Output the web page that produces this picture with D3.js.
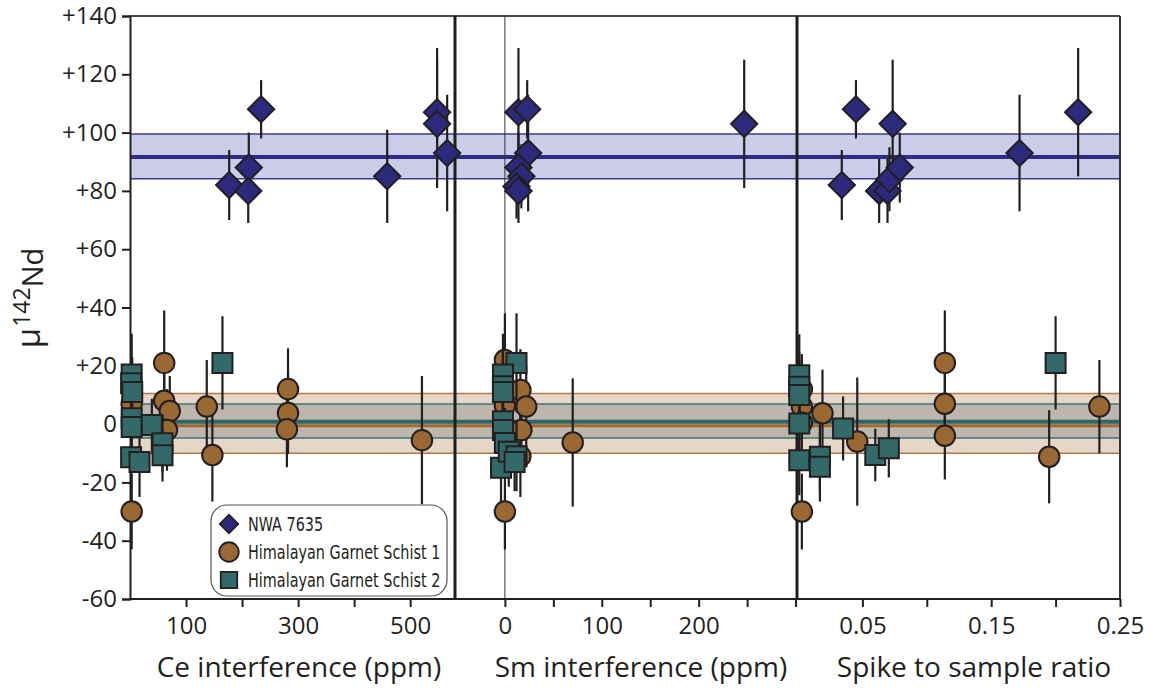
<!DOCTYPE html>
<html>
<head>
<meta charset="utf-8">
<script src="https://cdn.jsdelivr.net/npm/d3@7"></script>
<style>
  body { margin: 0; background: #fff; }
  text { font-family: "Open Sans", "Noto Sans", sans-serif; fill: #231f20; }
  .legend text { font-family: "Liberation Sans Narrow", "DejaVu Sans Condensed", sans-serif; }
</style>
</head>
<body>
<svg id="chart" width="1151" height="688"></svg>
<script>
// values: [x, mu142Nd, 2sd]
var ceNwa = [[177, 82, 12], [212, 88, 12], [211, 80, 11], [234, 108, 10], [459, 85, 16], [548, 107, 22], [548, 103, 22], [566, 93, 20]];
var ceHgs1 = [[3, -30, 13], [3, 7, 12], [61, 21, 18], [61, 8, 14], [71, 4.5, 12], [66, -2, 14], [137, 6, 16], [147, -10.6, 16], [282, 12, 14], [282, 3.8, 14], [280, -1.8, 13], [521, -5.5, 22]];
var ceHgs2 = [[3, 17, 14], [2, 14, 12], [4, 11, 12], [3, 2, 12], [3, -1, 12], [2, -11.4, 12], [17, -13, 12], [39, -0.3, 9], [58, -6.6, 10], [58, -10.7, 9], [165, 21, 16]];

var smNwa = [[14, 107, 22], [23, 108, 10], [24, 93, 20], [14, 88, 12], [17, 85, 11], [12, 81.5, 11], [14, 80, 11], [247, 103, 22]];
var smHgs1 = [[0, -30, 13], [0, 22, 16], [16, 11.7, 14], [22, 6, 14], [0, 6.5, 12], [17, -2, 14], [16, -11, 14], [70, -6.3, 22]];
var smHgs2 = [[12, 21, 17], [-2, 17, 14], [-2, 13, 12], [-2, 11, 12], [-2, 1, 12], [-2, -2, 12], [0, -6.5, 12], [-4, -15, 12], [4, -9.5, 12], [12, -11, 12], [10, -13, 10]];

var spNwa = [[0.034, 82, 12], [0.045, 108, 10], [0.0735, 103, 22], [0.063, 80, 11], [0.0695, 80, 11], [0.071, 84, 11], [0.079, 88, 12], [0.172, 93, 20], [0.2175, 107, 22]];
var spHgs1 = [[0.003, -30, 13], [0.003, 12, 12], [0.003, 6, 12], [0.003, 0.5, 12], [0.019, 3.7, 15], [0.046, -6, 22], [0.114, 21, 18], [0.114, 7, 14], [0.114, -4, 15], [0.195, -11.2, 16], [0.234, 6, 16]];
var spHgs2 = [[0.001, 16.8, 14], [0.001, 12.8, 12], [0.001, 10, 12], [0.001, 0.2, 12], [0.001, -12.4, 12], [0.017, -11.2, 12], [0.017, -14.6, 12], [0.035, -1.5, 11], [0.06, -10.6, 9], [0.0705, -8.3, 10], [0.2, 21, 16]];

// reference bands: [mean, low, high]
var nwaBand = [91.6, 84.2, 99.5];
var hgs1Band = [-0.6, -10, 10.5];
var hgs2Band = [0.8, -4.8, 6.9];

var yTicks = [-60, -40, -20, 0, 20, 40, 60, 80, 100, 120, 140];
var ceTicks = [100, 200, 300, 400, 500], ceLabels = [100, 300, 500];
var smTicks = [0, 50, 100, 150, 200, 250, 300], smLabels = [0, 100, 200];
var spTicks = [0.05, 0.10, 0.15, 0.20, 0.25], spLabels = [0.05, 0.15, 0.25];
var legendNames = ['NWA 7635', 'Himalayan Garnet Schist 1', 'Himalayan Garnet Schist 2'];

var svg = d3.select('#chart');
var pLeft = 130, pRight = 1120, pTop = 16, pBottom = 599;

var y = d3.scaleLinear().domain([-60, 140]).range([pBottom, pTop]);
var xCe = d3.scaleLinear().domain([0, 580]).range([pLeft, 455]);
var xSm = d3.scaleLinear().domain([-51.5, 301.5]).range([455, 797]);
var xSp = d3.scaleLinear().domain([0, 0.25]).range([798, pRight]);

var col = {
    nwa: '#2c2a7c', hgs1: '#9a6833', hgs2: '#336a69',
    nwaFill: '#cbcce7', hgs1Fill: '#e6d6c7', hgs2Fill: '#bcb6ac',
    nwaEdge: '#3b3b92', hgs1Edge: '#b07b48', hgs2Edge: '#3f7674'
};

// bands
var band = (b, fill, edge, lineCol, lw) => {
    svg.append('rect').attr('x', pLeft).attr('width', pRight - pLeft)
        .attr('y', y(b[2])).attr('height', y(b[1]) - y(b[2])).attr('fill', fill);
    [b[1], b[2]].forEach(v => svg.append('line').attr('x1', pLeft).attr('x2', pRight)
        .attr('y1', y(v)).attr('y2', y(v)).attr('stroke', edge).attr('stroke-width', 1.5));
    return () => svg.append('line').attr('x1', pLeft).attr('x2', pRight)
        .attr('y1', y(b[0])).attr('y2', y(b[0])).attr('stroke', lineCol).attr('stroke-width', lw);
};
var l1 = band(nwaBand, col.nwaFill, col.nwaEdge, '#2e2c84', 4);
var l2 = band(hgs1Band, col.hgs1Fill, col.hgs1Edge, '#a06a32', 3);
var l3 = band(hgs2Band, col.hgs2Fill, col.hgs2Edge, '#2f6766', 4);
l1(); l2(); l3();

// frame and panel dividers
svg.append('line').attr('x1', pLeft).attr('x2', pRight).attr('y1', pTop).attr('y2', pTop).attr('stroke', '#4a4a4a').attr('stroke-width', 2);
svg.append('line').attr('x1', pRight).attr('x2', pRight).attr('y1', pTop).attr('y2', pBottom).attr('stroke', '#333').attr('stroke-width', 2);
[455, 797].forEach(x => svg.append('line').attr('x1', x).attr('x2', x).attr('y1', pTop).attr('y2', pBottom).attr('stroke', '#1e1e1e').attr('stroke-width', 3));
svg.append('line').attr('x1', xSm(0)).attr('x2', xSm(0)).attr('y1', pTop).attr('y2', pBottom).attr('stroke', '#333').attr('stroke-width', 1);

// axes
var yAxis = d3.axisLeft(y).tickValues(yTicks).tickSize(8).tickPadding(5)
    .tickFormat(d => d > 0 ? '+' + d : d);
var gy = svg.append('g').attr('transform', 'translate(' + pLeft + ',0)').call(yAxis);

var bottomAxis = (scale, ticks, labels, fmt, x0, x1) => {
    var g = svg.append('g').attr('transform', 'translate(0,' + pBottom + ')')
        .call(d3.axisBottom(scale).tickValues(ticks).tickSize(8).tickPadding(10)
            .tickFormat(d => labels.some(l => Math.abs(l - d) < 1e-9) ? fmt(d) : ''));
    g.select('.domain').attr('d', 'M' + x0 + ',0H' + x1);
    return g;
};
var gCe = bottomAxis(xCe, ceTicks, ceLabels, d3.format('d'), pLeft, 455);
var gSm = bottomAxis(xSm, smTicks, smLabels, d3.format('d'), 455, 797);
var gSp = bottomAxis(xSp, spTicks, spLabels, d3.format('.2f'), 797, pRight);

[gy, gCe, gSm, gSp].forEach(g => {
    g.selectAll('.domain').attr('stroke', '#231f20').attr('stroke-width', 2);
    g.selectAll('.tick line').attr('stroke', '#231f20').attr('stroke-width', 2);
    g.selectAll('.tick text').attr('font-size', 24).attr('font-family', '"Open Sans", sans-serif').attr('fill', '#231f20');
});

// axis titles
[['Ce interference (ppm)', 299], ['Sm interference (ppm)', 641], ['Spike to sample ratio', 974]].forEach(t => {
    svg.append('text').attr('x', t[1]).attr('y', 677).attr('text-anchor', 'middle')
        .attr('font-size', 28).text(t[0]);
});
var yt = svg.append('text').attr('transform', 'translate(40,298) rotate(-90)').attr('text-anchor', 'middle');
yt.append('tspan').attr('font-size', 33).text('μ');
yt.append('tspan').attr('font-size', 23).attr('dx', 1).attr('dy', -10).text('142');
yt.append('tspan').attr('font-size', 29).attr('dy', 13).text('Nd');

// markers
var symbols = {
    nwa: d3.symbol().type(d3.symbolSquare).size(345),
    hgs1: d3.symbol().type(d3.symbolCircle).size(330),
    hgs2: d3.symbol().type(d3.symbolSquare).size(400)
};
var drawSeries = (data, xs, key) => {
    var g = svg.append('g');
    g.selectAll('line').data(data).enter().append('line')
        .attr('x1', d => xs(d[0])).attr('x2', d => xs(d[0]))
        .attr('y1', d => y(d[1] + d[2])).attr('y2', d => y(d[1] - d[2]))
        .attr('stroke', '#231f20').attr('stroke-width', 2.2);
    g.selectAll('path').data(data).enter().append('path')
        .attr('d', symbols[key])
        .attr('transform', d => 'translate(' + xs(d[0]) + ',' + y(d[1]) + ')' + (key === 'nwa' ? ' rotate(45)' : ''))
        .attr('fill', col[key]).attr('stroke', '#231f20').attr('stroke-width', 2);
};
drawSeries(ceNwa, xCe, 'nwa');
drawSeries(smNwa, xSm, 'nwa');
drawSeries(spNwa, xSp, 'nwa');
drawSeries(ceHgs1, xCe, 'hgs1');
drawSeries(smHgs1, xSm, 'hgs1');
drawSeries(spHgs1, xSp, 'hgs1');
drawSeries(ceHgs2, xCe, 'hgs2');
drawSeries(smHgs2, xSm, 'hgs2');
drawSeries(spHgs2, xSp, 'hgs2');

// legend
var lg = svg.append('g').attr('class', 'legend').attr('transform', 'translate(211,505)');
lg.append('rect').attr('width', 236).attr('height', 91).attr('rx', 16)
    .attr('fill', '#fff').attr('stroke', '#555').attr('stroke-width', 1.2);
var lsym = [
    d3.symbol().type(d3.symbolSquare).size(170),
    d3.symbol().type(d3.symbolCircle).size(300),
    d3.symbol().type(d3.symbolSquare).size(270)
];
var lkeys = ['nwa', 'hgs1', 'hgs2'];
legendNames.forEach((name, i) => {
    var cy = 19 + i * 28;
    lg.append('path').attr('d', lsym[i])
        .attr('transform', 'translate(18,' + cy + ')' + (i === 0 ? ' rotate(45)' : ''))
        .attr('fill', col[lkeys[i]]).attr('stroke', '#231f20').attr('stroke-width', 1.8);
    lg.append('text').attr('transform', 'translate(37,' + (cy + 7) + ') scale(0.8,1)')
        .attr('font-size', 20).text(name);
});
</script>
</body>
</html>
